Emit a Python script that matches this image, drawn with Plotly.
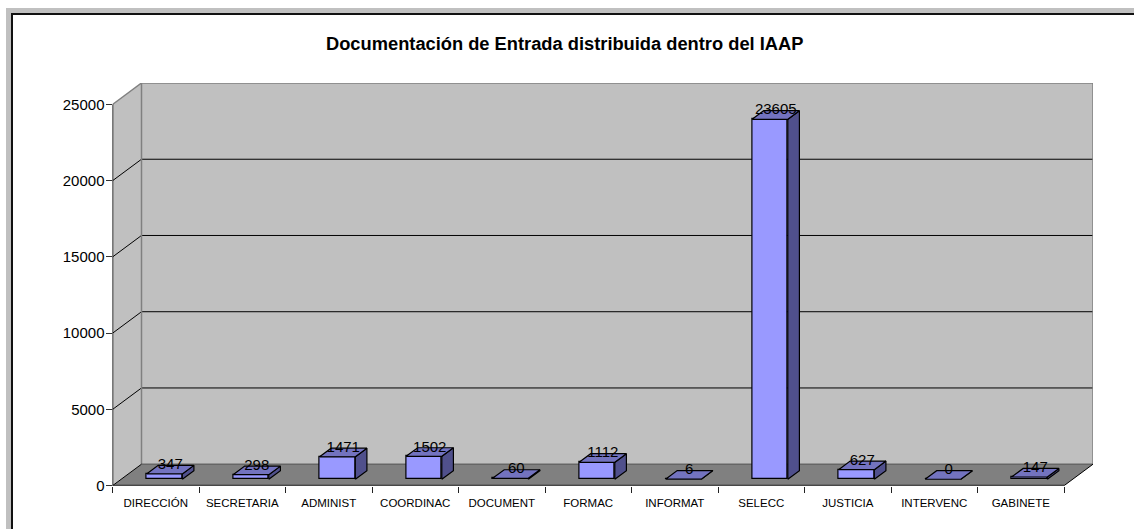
import plotly.graph_objects as go

categories = ["DIRECCIÓN", "SECRETARIA", "ADMINIST", "COORDINAC", "DOCUMENT", "FORMAC",
              "INFORMAT", "SELECC", "JUSTICIA", "INTERVENC", "GABINETE"]
values = [347, 298, 1471, 1502, 60, 1112, 6, 23605, 627, 0, 147]
y_ticks = [0, 5000, 10000, 15000, 20000, 25000]
chart_title = "Documentación de Entrada distribuida dentro del IAAP"

W, H = 1134, 529
FONT = "Liberation Sans"
# pixel geometry of the pseudo-3D box
X0, X1, XB = 112.5, 1064.0, 1093.0      # front-left, front-right, back-right
Y0, Y25, YT = 485.7, 104.5, 83.0        # zero, 25000 on front plane, top of back wall
n = len(categories)
DX = (XB - X1) / ((X1 - X0) / n)                 # depth shift, category units
DY = (Y25 - YT) / ((Y0 - Y25) / y_ticks[-1])     # depth shift, value units
BAR_W, D_FRONT, D_BACK = 0.413, 0.3, 0.7


def pt(x, y, d=0.0):
    return x + d * DX, y + d * DY


def path(points):
    return "M " + " L ".join(f"{x},{y}" for x, y in points) + " Z"


def frame_rect(x0, y0, x1, y1, color):
    return dict(type="rect", xref="paper", yref="paper", x0=x0 / W, x1=x1 / W,
                y0=1 - y1 / H, y1=1 - y0 / H, fillcolor=color, line_width=0, layer="below")


def seg(a, b, color, width=1):
    return dict(type="line", xref="x", yref="y", x0=a[0], y0=a[1], x1=b[0], y1=b[1],
                line=dict(color=color, width=width), layer="below")


top = y_ticks[-1]
shapes = [
    frame_rect(6, 8, W, H, "#c0c0c0"),
    frame_rect(11, 13, W, H, "#111111"),
    frame_rect(13, 15, W, H, "#ffffff"),
    # walls and floor
    dict(type="path", xref="x", yref="y", layer="below", fillcolor="#c0c0c0", line_width=0,
         path=path([pt(0, 0), pt(0, top), pt(0, top, 1), pt(n, top, 1), pt(n, 0, 1), pt(0, 0, 1)])),
    dict(type="path", xref="x", yref="y", layer="below", fillcolor="#808080", line_width=0,
         path=path([pt(0, 0), pt(n, 0), pt(n, 0, 1), pt(0, 0, 1)])),
]
for v in y_ticks[1:-1]:
    shapes += [seg(pt(0, v), pt(0, v, 1), "#000000"), seg(pt(0, v, 1), pt(n, v, 1), "#000000")]
shapes += [
    seg(pt(0, top), pt(0, top, 1), "#808080", 1.5),
    seg(pt(0, top, 1), pt(n, top, 1), "#808080", 1.5),
    seg(pt(0, 0, 1), pt(0, top, 1), "#808080", 1.5),
    seg(pt(n, 0, 1), pt(n, top, 1), "#808080", 1.5),
    seg(pt(0, 0, 1), pt(n, 0, 1), "#666666", 1.5),
    seg(pt(n, 0), pt(n, 0, 1), "#000000"),
    seg(pt(0, 0), pt(0, 0, 1), "#000000"),
    seg(pt(0, 0), pt(0, top), "#000000", 1.5),
]

centers = [i + 0.5 for i in range(n)]
side_x, side_y, top_x, top_y = [], [], [], []
for c, v in zip(centers, values):
    xl, xr = c - BAR_W / 2, c + BAR_W / 2
    s = [pt(xr, 0, D_FRONT), pt(xr, v, D_FRONT), pt(xr, v, D_BACK), pt(xr, 0, D_BACK), pt(xr, 0, D_FRONT)]
    t = [pt(xl, v, D_FRONT), pt(xr, v, D_FRONT), pt(xr, v, D_BACK), pt(xl, v, D_BACK), pt(xl, v, D_FRONT)]
    side_x += [p[0] for p in s] + [None]
    side_y += [p[1] for p in s] + [None]
    top_x += [p[0] for p in t] + [None]
    top_y += [p[1] for p in t] + [None]

fig = go.Figure()
fig.add_bar(x=[c + D_FRONT * DX for c in centers], y=values, base=D_FRONT * DY, width=BAR_W,
            marker=dict(color="#9999ff", line=dict(color="#000000", width=1.2)), hoverinfo="skip")
fig.add_scatter(x=side_x, y=side_y, mode="lines", fill="toself", fillcolor="#50508c",
                line=dict(color="#000000", width=1.2), hoverinfo="skip")
fig.add_scatter(x=top_x, y=top_y, mode="lines", fill="toself", fillcolor="#7373bf",
                line=dict(color="#000000", width=1.2), hoverinfo="skip")
# front floor edge
fig.add_scatter(x=[0, n], y=[0, 0], mode="lines", line=dict(color="#222222", width=2),
                cliponaxis=False, hoverinfo="skip")
# data labels
fig.add_scatter(x=[c + 0.5 * DX for c in centers], y=[v + D_BACK * DY for v in values],
                mode="text", text=[str(v) for v in values], textposition="middle center",
                textfont=dict(family=FONT, size=15, color="#000000"), cliponaxis=False, hoverinfo="skip")

fig.update_layout(
    width=W, height=H, margin=dict(l=0, r=0, t=0, b=0, pad=0, autoexpand=False), showlegend=False,
    paper_bgcolor="#ffffff", plot_bgcolor="rgba(0,0,0,0)", bargap=0, barmode="overlay",
    shapes=shapes,
    annotations=[dict(text=f"<b>{chart_title}</b>", xref="paper", yref="paper", x=564 / W,
                      y=1 - 43 / H, showarrow=False, xanchor="center", yanchor="middle",
                      font=dict(family=FONT, size=18.3, color="#000000"))],
    xaxis=dict(domain=[X0 / W, XB / W], range=[0, n + DX], showgrid=False, zeroline=False, showline=False,
               automargin=False,
               tickmode="array", tickvals=centers, ticktext=categories, ticks="", ticklabelstandoff=9,
               tickfont=dict(family=FONT, size=11.5, color="#000000"),
               minor=dict(tickmode="array", tickvals=list(range(n + 1)), ticks="outside", ticklen=6,
                          tickwidth=1, tickcolor="#222222", showgrid=False)),
    yaxis=dict(domain=[1 - Y0 / H, 1 - YT / H], range=[0, top + DY], showgrid=False, zeroline=False,
               automargin=False, ticklabelstandoff=-2,
               showline=False, tickmode="array", tickvals=y_ticks, ticktext=[str(t) for t in y_ticks],
               ticks="outside", ticklen=6, tickwidth=1, tickcolor="#333333",
               tickfont=dict(family=FONT, size=15, color="#000000")),
)
fig.write_html("out.html", config={"displayModeBar": False},
               post_script="document.body.style.margin='0';document.documentElement.style.overflow='hidden';"
                           "Plotly.relayout('{plot_id}',{height:529,width:1134});")
